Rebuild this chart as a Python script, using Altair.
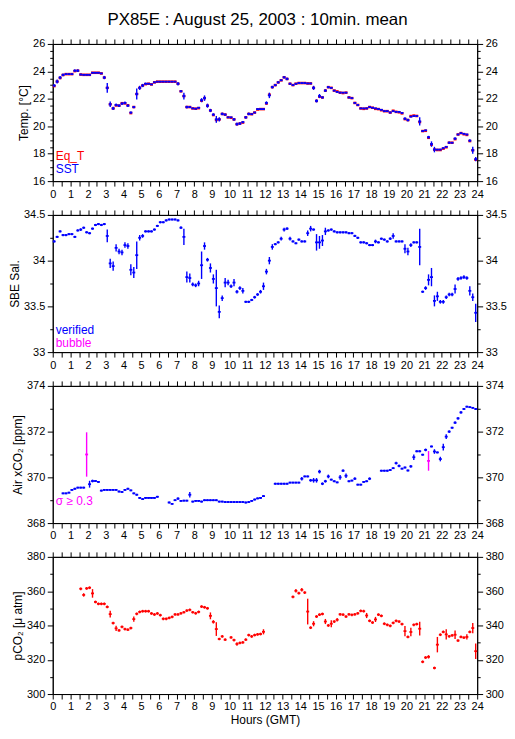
import altair as alt
import pandas as pd

FONT = "Liberation Sans"
TITLE = "PX85E : August 25, 2003 : 10min. mean"

# 10-minute means, one value per 10 min slot (0:00-0:10 ... 23:50-24:00)
N_SLOTS = 144
HOUR_TICKS = [h / 2 for h in range(49)]

SST = [
    22.97, 23.26, 23.55, 23.74, 23.80, 23.80,
    23.80, 24.05, 24.05, 23.77, 23.75, 23.75,
    23.75, 23.90, 23.90, 23.90, 23.85, 23.55,
    22.80, 21.60, 21.30, 21.55, 21.50, 21.65,
    21.70, 21.50, 21.00, 21.40, 22.35, 22.80,
    22.97, 23.10, 23.10, 23.05, 23.20, 23.25,
    23.25, 23.25, 23.25, 23.25, 23.25, 23.25,
    23.10, 22.55, 22.20, 21.40, 21.40, 21.30,
    21.28, 21.35, 21.90, 22.05, 21.50, 21.15,
    20.85, 20.50, 20.50, 20.90, 20.85, 20.65,
    20.65, 20.50, 20.15, 20.20, 20.30, 20.65,
    20.90, 20.88, 21.00, 21.25, 21.25, 21.25,
    21.70, 22.25, 22.85, 23.00, 23.20, 23.35,
    23.57, 23.45, 23.10, 23.00, 23.10, 23.15,
    23.15, 23.15, 23.12, 23.12, 22.80, 21.85,
    22.20, 22.10, 22.60, 22.85, 22.80, 22.60,
    22.50, 22.45, 22.45, 22.45, 22.10, 22.05,
    21.70, 21.55, 21.30, 21.30, 21.30, 21.40,
    21.35, 21.30, 21.25, 21.20, 21.10, 21.10,
    21.00, 21.10, 21.05, 21.05, 20.97, 20.55,
    20.45, 20.70, 20.75, 20.75, 20.35, 19.65,
    19.70, 19.20, 18.70, 18.30, 18.30, 18.30,
    18.40, 18.50, 18.80, 18.80, 19.10, 19.40,
    19.50, 19.45, 19.40, 18.95, 18.25, 17.60,
]
SST_SD = [
    .10, .15, .12, .10, .05, .05,
    .05, .10, .10, .05, .05, .05,
    .05, .05, .05, .05, .05, .12,
    .35, .20, .12, .10, .10, .10,
    .10, .10, .08, .08, .40, .15,
    .12, .08, .05, .05, .05, .03,
    .03, .03, .03, .03, .03, .03,
    .12, .08, .25, .10, .05, .05,
    .05, .05, .15, .20, .15, .12,
    .10, .25, .15, .10, .08, .05,
    .05, .10, .12, .10, .08, .10,
    .10, .05, .05, .05, .05, .05,
    .12, .20, .10, .08, .08, .05,
    .08, .10, .08, .05, .05, .05,
    .05, .05, .05, .05, .15, .12,
    .15, .08, .10, .08, .05, .05,
    .05, .05, .05, .05, .05, .05,
    .05, .05, .05, .05, .05, .05,
    .05, .05, .05, .05, .05, .05,
    .05, .05, .05, .05, .05, .10,
    .10, .05, .05, .05, .30, .05,
    .05, .10, .20, .20, .05, .05,
    .05, .05, .08, .05, .10, .05,
    .05, .05, .05, .10, .25, .15,
]
EQ_T = [
    22.93, 23.26, 23.52, 23.74, 23.80, 23.80,
    23.80, 24.02, 24.05, 23.77, 23.75, 23.75,
    23.75, 23.90, 23.90, 23.90, 23.85, 23.55,
    22.80, 21.60, 21.30, 21.52, 21.50, 21.68,
    21.67, 21.53, 20.96, 21.40, 22.35, 22.80,
    22.97, 23.07, 23.10, 23.05, 23.20, 23.25,
    23.25, 23.25, 23.25, 23.25, 23.25, 23.25,
    23.10, 22.55, 22.20, 21.40, 21.40, 21.30,
    21.28, 21.32, 21.86, 22.05, 21.50, 21.15,
    20.82, 20.46, 20.50, 20.90, 20.85, 20.65,
    20.62, 20.50, 20.15, 20.20, 20.27, 20.65,
    20.90, 20.88, 21.00, 21.22, 21.25, 21.25,
    21.66, 22.30, 22.85, 23.00, 23.20, 23.35,
    23.57, 23.45, 23.10, 23.00, 23.10, 23.15,
    23.15, 23.15, 23.12, 23.12, 22.80, 21.85,
    22.16, 22.10, 22.60, 22.85, 22.80, 22.60,
    22.54, 22.45, 22.42, 22.45, 22.10, 22.05,
    21.70, 21.55, 21.30, 21.27, 21.30, 21.40,
    21.35, 21.27, 21.25, 21.17, 21.10, 21.10,
    21.00, 21.13, 21.05, 21.02, 20.94, 20.52,
    20.45, 20.74, 20.78, 20.75, 20.31, 19.65,
    19.67, 19.16, 18.66, 18.30, 18.27, 18.27,
    18.37, 18.47, 18.80, 18.80, 19.06, 19.40,
    19.50, 19.42, 19.37, 18.92, 18.25, 17.56,
]

SAL = [
    34.21, 34.26, 34.32, 34.28, 34.28, 34.29,
    34.29, 34.26, 34.33, 34.34, 34.36, 34.31,
    34.30, 34.35, 34.39, 34.40, 34.39, 34.40,
    34.27, 33.97, 33.94, 34.14, 34.10, 34.09,
    34.17, 34.16, 33.90, 33.87, 34.06, 34.25,
    34.27, 34.32, 34.32, 34.32, 34.34, 34.38,
    34.42, 34.42, 34.44, 34.45, 34.45, 34.45,
    34.44, 34.36, 34.26, 33.82, 33.81, 33.74,
    33.73, 33.75, 33.95, 34.16, 34.01, 33.92,
    33.80, 33.70, 33.44, 33.59, 33.76, 33.76,
    33.72, 33.76, 33.66, 33.70, 33.67, 33.55,
    33.55, 33.57, 33.60, 33.63, 33.66, 33.72,
    33.88, 34.00, 34.15, 34.18, 34.20, 34.24,
    34.34, 34.35, 34.24, 34.21, 34.19, 34.23,
    34.21, 34.21, 34.30, 34.35, 34.34, 34.20,
    34.20, 34.22, 34.32, 34.33, 34.34, 34.32,
    34.31, 34.31, 34.31, 34.31, 34.30, 34.30,
    34.27, 34.25, 34.20, 34.20, 34.19, 34.17,
    34.17, 34.21, 34.20, 34.24, 34.23, 34.21,
    34.24, 34.27, 34.21, 34.21, 34.21, 34.13,
    34.10, 34.17, 34.20, 34.20, 34.15, 33.66,
    33.70, 33.79, 33.82, 33.56, 33.61, 33.55,
    33.55, 33.60, 33.63, 33.63, 33.69, 33.80,
    33.81, 33.82, 33.81, 33.67, 33.60, 33.43,
]
SAL_SD = [
    .012, .012, .012, .012, .012, .012,
    .012, .012, .012, .015, .012, .012,
    .012, .012, .012, .012, .012, .012,
    .070, .050, .050, .040, .030, .030,
    .030, .030, .060, .060, .150, .030,
    .020, .012, .012, .012, .012, .012,
    .012, .012, .012, .012, .012, .012,
    .012, .015, .090, .060, .050, .020,
    .020, .030, .150, .040, .020, .050,
    .050, .200, .070, .030, .050, .030,
    .020, .040, .020, .020, .030, .012,
    .012, .012, .015, .015, .020, .040,
    .030, .040, .030, .012, .012, .020,
    .020, .015, .020, .012, .012, .012,
    .012, .012, .030, .030, .012, .090,
    .070, .060, .040, .012, .012, .012,
    .012, .012, .012, .012, .012, .012,
    .012, .012, .012, .012, .012, .012,
    .012, .020, .012, .012, .012, .012,
    .015, .030, .012, .012, .012, .050,
    .040, .020, .012, .012, .200, .012,
    .020, .060, .100, .060, .050, .020,
    .020, .020, .020, .020, .050, .020,
    .020, .020, .020, .050, .040, .100,
]

XCO2 = [
    None, None, None, 369.30, 369.30, 369.33,
    369.45, 369.50, 369.55, 369.55, 369.55, 371.00,
    369.70, 369.84, 369.84, 369.80, 369.42, 369.45,
    369.45, 369.45, 369.45, 369.45, 369.38, 369.36,
    369.45, 369.50, 369.43, 369.30, 369.24, 369.10,
    369.05, 369.10, 369.10, 369.10, 369.10, 369.15,
    None, None, None, 368.90, 368.84, 369.00,
    369.07, 368.97, 368.98, 368.98, 369.24, 368.94,
    368.97, 368.97, 368.94, 369.00, 369.00, 369.00,
    369.00, 369.00, 368.94, 368.94, 368.92, 368.92,
    368.92, 368.92, 368.92, 368.92, 368.92, 368.90,
    368.92, 368.97, 369.03, 369.08, 369.10, 369.18,
    None, None, None, 369.72, 369.72, 369.72,
    369.72, 369.72, 369.77, 369.77, 369.77, 369.77,
    369.94, 370.04, 370.04, 369.87, 369.87, 369.87,
    370.25, 369.72, 369.83, 370.04, 369.90, 369.83,
    369.78, 370.00, 370.29, 370.07, 369.83, 369.86,
    369.94, 369.68, 369.68, 369.80, 369.83, 369.94,
    None, None, None, 370.29, 370.29, 370.29,
    370.32, 370.40, 370.62, 370.50, 370.38, 370.43,
    370.30, 370.48, 370.88, 371.14, 371.14, 370.99,
    371.20, 370.72, 371.35, 371.13, 371.09, 370.80,
    371.32, 371.78, 372.00, 372.17, 372.39, 372.58,
    372.84, 372.99, 373.09, 373.07, 373.04, 372.99,
]
XCO2_SD = [
    None, None, None, .04, .04, .04,
    .04, .04, .04, .04, .04, .97,
    .15, .06, .04, .04, .04, .04,
    .04, .04, .04, .04, .04, .04,
    .04, .04, .04, .04, .04, .04,
    .04, .04, .04, .04, .04, .04,
    None, None, None, .04, .04, .04,
    .06, .04, .04, .04, .12, .04,
    .04, .04, .04, .04, .04, .04,
    .04, .04, .04, .04, .04, .04,
    .04, .04, .04, .04, .04, .04,
    .04, .04, .04, .04, .04, .04,
    None, None, None, .04, .04, .04,
    .04, .04, .04, .04, .04, .04,
    .08, .04, .04, .06, .10, .10,
    .08, .06, .06, .08, .04, .04,
    .04, .10, .06, .10, .04, .04,
    .06, .04, .04, .04, .04, .06,
    None, None, None, .04, .04, .04,
    .04, .04, .06, .06, .04, .04,
    .04, .06, .12, .04, .04, .04,
    .06, .43, .04, .10, .04, .10,
    .15, .10, .06, .04, .06, .06,
    .06, .04, .04, .04, .04, .04,
]

PCO2 = [
    None, None, None, None, None, None,
    None, None, None, 361.4, 357.8, 361.6,
    362.0, 358.7, 353.7, 352.6, 352.6, 352.6,
    350.8, 346.6, 341.4, 338.3, 337.1, 339.2,
    337.9, 337.5, 338.5, 343.7, 346.8, 347.9,
    348.3, 348.3, 348.3, 347.0, 346.4, 347.0,
    346.0, 343.9, 343.9, 344.4, 345.0, 346.4,
    346.4, 347.1, 347.7, 348.7, 349.1, 347.7,
    347.1, 347.9, 351.0, 350.6, 350.0, 345.6,
    342.1, 337.9, 332.1, 333.6, 331.7, None,
    333.0, 331.5, 329.2, 329.8, 330.1, 331.7,
    334.4, 333.6, 334.4, 334.8, 335.0, 336.3,
    None, None, None, None, None, None,
    None, None, None, 356.7, 360.2, 358.8,
    360.8, 359.2, 348.1, 338.7, 341.0, 345.2,
    346.3, 346.7, 342.3, 340.0, 341.0, 342.3,
    343.3, 346.5, 346.3, 345.2, 346.5, 346.2,
    346.5, 347.1, 348.5, 348.3, 345.8, 342.7,
    341.7, 343.5, 346.3, 345.6, 341.0, 340.4,
    339.8, 341.5, 342.7, 342.3, 340.8, 336.7,
    333.3, 336.2, 340.4, 340.8, 338.1, 318.8,
    321.3, 321.7, None, 315.2, 328.8, 334.6,
    336.2, 334.8, 333.7, 334.2, 334.6, 331.2,
    333.3, 332.9, 333.3, 336.2, 338.5, 325.0,
]
PCO2_SD = [
    None, None, None, None, None, None,
    None, None, None, 0.8, 1.0, 0.8,
    0.8, 2.5, 0.8, 0.8, 0.8, 0.8,
    0.8, 2.0, 0.8, 1.5, 0.8, 0.8,
    0.8, 0.8, 0.8, 1.5, 0.8, 0.8,
    0.8, 0.8, 0.8, 0.8, 0.8, 0.8,
    0.8, 0.8, 0.8, 0.8, 0.8, 0.8,
    0.8, 0.8, 0.8, 0.8, 0.8, 0.8,
    0.8, 0.8, 0.8, 0.8, 0.8, 2.0,
    1.0, 4.0, 0.8, 0.8, 0.8, None,
    0.8, 0.8, 1.0, 0.8, 0.8, 0.8,
    0.8, 0.8, 0.8, 0.8, 0.8, 1.5,
    None, None, None, None, None, None,
    None, None, None, 0.8, 1.0, 0.8,
    1.0, 0.8, 7.5, 0.8, 1.5, 0.8,
    0.8, 0.8, 1.5, 0.8, 2.0, 0.8,
    1.0, 0.8, 0.8, 0.8, 0.8, 0.8,
    0.8, 0.8, 0.8, 0.8, 1.5, 0.8,
    0.8, 1.5, 0.8, 0.8, 0.8, 0.8,
    0.8, 0.8, 0.8, 0.8, 0.8, 3.0,
    0.8, 2.5, 0.8, 0.8, 4.0, 0.8,
    0.8, 1.0, None, 0.8, 4.5, 0.8,
    0.8, 3.0, 0.8, 0.8, 2.5, 0.8,
    0.8, 0.8, 1.5, 0.8, 3.0, 4.5,
]

BLUE = "#0000ff"
RED = "#ff0000"
MAGENTA = "#ff00ff"

SLOT_T = [(i + 0.5) / 6 for i in range(N_SLOTS)]
HALF = 1 / 12


def frame(values, sds, colors):
    df = pd.DataFrame({"t": SLOT_T, "v": values, "sd": sds, "col": colors})
    df = df.dropna(subset=["v"]).copy()
    df["x0"] = df["t"] - HALF
    df["x1"] = df["t"] + HALF
    df["lo"] = df["v"] - df["sd"]
    df["hi"] = df["v"] + df["sd"]
    return df


W, H = 427, 138
XS = alt.Scale(domain=[0, 24], nice=False, zero=False)

COMMON_AXIS = dict(
    domainColor="black", tickColor="black", grid=False,
    labelFont=FONT, labelFontSize=11, labelColor="black",
    labelOverlap=False, labelFlush=False,
    titleFont=FONT, titleFontSize=12, titleFontWeight="normal", titleColor="black",
)


def xaxis(orient, labels, title=None):
    return alt.Axis(
        orient=orient, values=HOUR_TICKS, labels=labels, tickSize=5,
        labelPadding=2, titlePadding=3, title=title,
        labelExpr="datum.value % 1 == 0 ? toString(datum.value) : ''",
        **COMMON_AXIS,
    )


def yaxis(orient, ticks, major, title=None):
    return alt.Axis(
        orient=orient, values=ticks, title=title,
        tickSize={"condition": {"test": major, "value": 5.5}, "value": 3},
        labelExpr=f"({major}) ? toString(datum.value) : ''",
        labelPadding=2.5, titlePadding=2,
        **COMMON_AXIS,
    )


def panel(frames, domain, ticks, major, ytitle, xtitle=None, notes=None):
    ys = alt.Scale(domain=domain, nice=False, zero=False)
    layers = []
    for df, with_vertical, hw in frames:
        base = alt.Chart(df)
        k = len(layers)
        if k == 0:
            ax_x, ax_y = xaxis("bottom", True, xtitle), yaxis("left", ticks, major, ytitle)
        elif k == 1:
            ax_x, ax_y = xaxis("top", False), yaxis("right", ticks, major)
        else:
            ax_x, ax_y = None, None
        layers.append(base.mark_rule(strokeWidth=hw, strokeCap="butt").encode(
            x=alt.X("x0:Q", scale=XS, axis=ax_x),
            x2="x1:Q",
            y=alt.Y("v:Q", scale=ys, axis=ax_y),
            color=alt.Color("col:N", scale=None),
        ))
        if with_vertical:
            k = len(layers)
            if k == 1:
                ax_x, ax_y = xaxis("top", False), yaxis("right", ticks, major)
            else:
                ax_x, ax_y = None, None
            layers.append(base.mark_rule(strokeWidth=1.4).encode(
                x=alt.X("t:Q", scale=XS, axis=ax_x),
                y=alt.Y("lo:Q", scale=ys, axis=ax_y),
                y2="hi:Q",
                color=alt.Color("col:N", scale=None),
            ))
    if notes is not None:
        layers.append(alt.Chart(notes).mark_text(
            align="left", baseline="middle", font=FONT, fontSize=12
        ).encode(
            x=alt.X("x:Q", scale=XS, axis=None),
            y=alt.Y("y:Q", scale=ys, axis=None),
            text="label:N",
            color=alt.Color("col:N", scale=None),
        ))
    return alt.layer(*layers).resolve_axis(x="independent", y="independent").properties(
        width=W, height=H)


sst = frame(SST, SST_SD, [BLUE] * N_SLOTS)
eqt = frame(EQ_T, [0.0] * N_SLOTS, [RED] * N_SLOTS)
sal = frame(SAL, SAL_SD, [BLUE] * N_SLOTS)
xco2 = frame(XCO2, XCO2_SD, [BLUE] * N_SLOTS)
xco2["col"] = [MAGENTA if s >= 0.3 else BLUE for s in xco2["sd"]]
pco2 = frame(PCO2, PCO2_SD, [RED] * N_SLOTS)

notes1 = pd.DataFrame({"label": ["Eq_T", "SST"], "x": [0.17, 0.17], "y": [17.8, 16.85],
                       "col": [RED, BLUE]})
notes2 = pd.DataFrame({"label": ["verified", "bubble"], "x": [0.17, 0.17], "y": [33.24, 33.1],
                       "col": [BLUE, MAGENTA]})
notes3 = pd.DataFrame({"label": ["σ ≥ 0.3"], "x": [0.17], "y": [368.95], "col": [MAGENTA]})

p1 = panel([(eqt, False, 2.6), (sst, True, 1.8)], [16, 26], [16 + i * 0.5 for i in range(21)],
           "datum.value % 2 == 0", "Temp. [°C]", notes=notes1)
p2 = panel([(sal, True, 1.8)], [33, 34.5], [33 + i * 0.25 for i in range(7)],
           "datum.value % 0.5 == 0", "SBE Sal.", notes=notes2)
p3 = panel([(xco2, True, 1.8)], [368, 374], list(range(368, 375)),
           "datum.value % 2 == 0", "Air xCO₂ [ppm]", notes=notes3)
p4 = panel([(pco2, True, 1.8)], [300, 380], list(range(300, 381, 10)),
           "datum.value % 20 == 0", "pCO₂ [μ atm]", xtitle="Hours (GMT)")

chart = alt.vconcat(p1, p2, p3, p4, spacing=34, bounds="flush").properties(
    title=alt.TitleParams(TITLE, font=FONT, fontSize=17, fontWeight="normal",
                          color="black", anchor="middle", offset=9),
    background="white",
    padding=0,
).configure_view(stroke="black", strokeWidth=1)

chart.save("out.html", embed_options={"renderer": "svg", "actions": False})
